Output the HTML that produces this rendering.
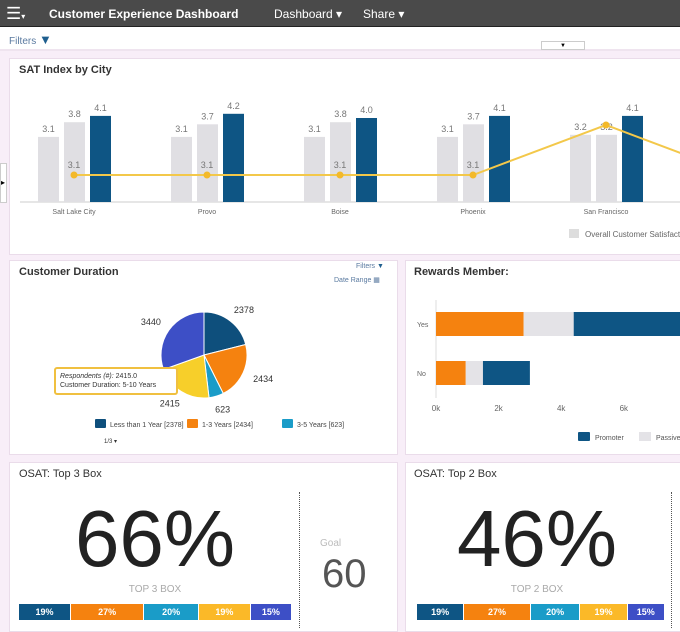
<!DOCTYPE html>
<html><head><meta charset="utf-8"><style>
*{margin:0;padding:0;box-sizing:border-box}
body{width:680px;height:628px;overflow:hidden;background:#f8eef8;font-family:"Liberation Sans",sans-serif;position:relative}
.abs{position:absolute}
.panel{position:absolute;background:#fff;border:1px solid #eadcea}
.title{position:absolute;font-size:11px;font-weight:bold;color:#333}
</style></head><body>
<div class="abs" style="left:0;top:0;width:680px;height:27px;background:#4a4a4a;border-bottom:1px solid #222">
 <div class="abs" style="left:6px;top:5px;color:#fff;font-size:17px;line-height:17px">☰<span style="font-size:8px">▾</span></div>
 <div class="abs" style="left:49px;top:7px;color:#fff;font-size:12px;font-weight:bold">Customer Experience Dashboard</div>
 <div class="abs" style="left:274px;top:7px;color:#fff;font-size:12px">Dashboard ▾</div>
 <div class="abs" style="left:363px;top:7px;color:#fff;font-size:12px">Share ▾</div>
</div>
<div class="abs" style="left:0;top:27px;width:680px;height:24px;background:#fff;border-bottom:2px solid #efe4ef"></div>
<div class="abs" style="left:9px;top:32px;color:#5a7aa0;font-size:10px">Filters <span style="color:#1f5f8f;font-size:13px">▼</span></div>
<div class="abs" style="left:541px;top:41px;width:44px;height:9px;border:1px solid #ccc;background:#fff;font-size:6px;text-align:center;line-height:8px">▼</div>

<div class="panel" style="left:9px;top:58px;width:680px;height:197px"></div>
<div class="title" style="left:19px;top:64px">SAT Index by City</div>
<div class="abs" style="left:0;top:163px;width:7px;height:40px;background:#fff;border:1px solid #ccc;font-size:8px;line-height:38px">▸</div>
<svg class="abs" id="bar" style="left:0;top:80px" width="680" height="175"></svg>

<div class="panel" style="left:9px;top:260px;width:389px;height:195px"></div>
<div class="title" style="left:19px;top:266px">Customer Duration</div>
<div class="abs" style="left:356px;top:263px;font-size:7px;color:#5a7aa0">Filters <span style="color:#1f5f8f">▼</span></div>
<div class="abs" style="left:334px;top:276px;font-size:7px;color:#5a7aa0">Date Range ▦</div>
<svg class="abs" id="pie" style="left:9px;top:280px" width="389" height="175"></svg>
<div class="abs" style="left:54px;top:367px;width:124px;height:28px;background:#fff;border:2px solid #f0c040;border-radius:3px;font-size:7px;color:#333;padding:3px 4px;line-height:9px"><i>Respondents (#):</i> 2415.0<br>Customer Duration: 5-10 Years</div>

<div class="panel" style="left:405px;top:260px;width:280px;height:195px"></div>
<div class="title" style="left:414px;top:266px">Rewards Member:</div>
<svg class="abs" id="hbar" style="left:405px;top:280px" width="275" height="175"></svg>

<div class="panel" style="left:9px;top:462px;width:389px;height:170px"></div>
<div class="title" style="left:19px;top:468px;font-weight:normal">OSAT: Top 3 Box</div>
<div class="abs" style="left:40px;top:496px;width:230px;text-align:center;font-size:80px;color:#222;line-height:86px">66%</div>
<div class="abs" style="left:40px;top:584px;width:230px;text-align:center;font-size:10px;color:#aaa">TOP 3 BOX</div>
<div class="abs" style="left:299px;top:492px;height:136px;border-left:1px dotted #555"></div>
<div class="abs" style="left:320px;top:538px;font-size:10px;color:#bbb">Goal</div>
<div class="abs" style="left:322px;top:552px;font-size:40px;color:#555">60</div>
<div class="abs" id="strip1" style="left:19px;top:604px;width:273px;height:16px;display:flex"></div>

<div class="panel" style="left:405px;top:462px;width:280px;height:170px"></div>
<div class="title" style="left:414px;top:468px;font-weight:normal">OSAT: Top 2 Box</div>
<div class="abs" style="left:422px;top:496px;width:230px;text-align:center;font-size:80px;color:#222;line-height:86px">46%</div>
<div class="abs" style="left:422px;top:584px;width:230px;text-align:center;font-size:10px;color:#aaa">TOP 2 BOX</div>
<div class="abs" style="left:671px;top:492px;height:136px;border-left:1px dotted #555"></div>
<div class="abs" id="strip2" style="left:417px;top:604px;width:248px;height:16px;display:flex"></div>

<script>
const cities=["Salt Lake City","Provo","Boise","Phoenix","San Francisco","Seattle"];
const series1=[3.1,3.1,3.1,3.1,3.2,3.1];
const series2=[3.8,3.7,3.8,3.7,3.2,3.7];
const series3=[4.1,4.2,4.0,4.1,4.1,4.1];
const lineVals=[3.1,3.1,3.1,3.1,3.2,3.1];
const pieLabels=["Less than 1 Year","1-3 Years","3-5 Years","5-10 Years","10+ Years"];
const pieVals=[2378,2434,623,2415,3440];
const pieColors=["#0e4f7c","#f5820f","#1a9cc8","#f7cf2a","#3d4fc6"];
const rewardCats=["Yes","No"];
const promoter=[4.6,1.5];
const passive=[1.6,0.55];
const detractor=[2.8,0.95];
const xTicks=["0k","2k","4k","6k"];
const stripVals1=[19,27,20,19,15];
const stripVals2=[19,27,20,19,15];
const NS="http://www.w3.org/2000/svg";
function mk(p,t,a){const e=document.createElementNS(NS,t);for(const k in a)e.setAttribute(k,a[k]);p.appendChild(e);return e;}
const bar=document.getElementById('bar');
const base=122, pxu=21;
const yB=v=>base-v*pxu;
const yL=v=>95-(v-3.1)*500;
const xC=i=>74+i*133;
const ax=mk(bar,'line',{x1:20,x2:680,y1:base,y2:base,stroke:'#ccc'});

cities.forEach((c,i)=>{
  const cx=xC(i);
  [[series1,'#e0dfe3',-36],[series2,'#e0dfe3',-10],[series3,'#0e5584',16]].forEach(([s,col,off],k)=>{
    const r=mk(bar,'rect',{x:cx+off,y:yB(s[i]),width:21,height:s[i]*pxu,fill:col});
    
    
    const t=mk(bar,'text',{x:cx+off+10.5,y:yB(s[i])-5,'text-anchor':'middle','font-size':9,fill:'#777'});t.textContent=s[i].toFixed(1);
  });
  const l=mk(bar,'text',{x:cx,y:base+12,'text-anchor':'middle','font-size':7,fill:'#666'});l.textContent=c;
  
});
let pts=lineVals.map((v,i)=>xC(i)+','+yL(v)).join(' ');
const pl=mk(bar,'polyline',{points:pts,fill:'none',stroke:'#f3c84a','stroke-width':2});

lineVals.forEach((v,i)=>{const c=mk(bar,'circle',{cx:xC(i),cy:yL(v),r:3.5,fill:'#f3b92a'});
 
 if(v<3.15){const t=mk(bar,'text',{x:xC(i),y:yL(v)-7,'text-anchor':'middle','font-size':9,fill:'#777'});t.textContent=v.toFixed(1);}});
mk(bar,'rect',{x:569,y:149,width:10,height:9,fill:'#ddd'});
const lg=mk(bar,'text',{x:585,y:157,'font-size':8,fill:'#666'});lg.textContent='Overall Customer Satisfaction';

const pie=document.getElementById('pie');
const pcx=195,pcy=75,pr=43;const tot=pieVals.reduce((a,b)=>a+b,0);
let ang=-Math.PI/2;
pieVals.forEach((v,i)=>{const a2=ang+v/tot*2*Math.PI;
 const x1=pcx+pr*Math.cos(ang),y1=pcy+pr*Math.sin(ang),x2=pcx+pr*Math.cos(a2),y2=pcy+pr*Math.sin(a2);
 const p=mk(pie,'path',{d:`M${pcx},${pcy}L${x1},${y1}A${pr},${pr} 0 ${a2-ang>Math.PI?1:0} 1 ${x2},${y2}Z`,fill:pieColors[i],stroke:'#fff','stroke-width':1});
 
 const m=(ang+a2)/2;const lx=pcx+(pr+22)*Math.cos(m),ly=pcy+(pr+14)*Math.sin(m);
 const t=mk(pie,'text',{x:lx,y:ly+3,'text-anchor':'middle','font-size':9,fill:'#333'});t.textContent=v;
 ang=a2;});
[[0,86],[1,178],[2,273]].forEach(([i,x])=>{mk(pie,'rect',{x:x,y:139,width:11,height:9,fill:pieColors[i],rx:1});
 const t=mk(pie,'text',{x:x+15,y:147,'font-size':7,fill:'#444'});t.textContent=pieLabels[i]+' ['+pieVals[i]+']';
 });
const pg=mk(pie,'text',{x:95,y:163,'font-size':6,fill:'#333'});pg.textContent='1/3 ▾';
const hb=document.getElementById('hbar');
const xK=k=>31+k*31.3;
mk(hb,'line',{x1:31,x2:31,y1:20,y2:118,stroke:'#ddd'});
rewardCats.forEach((c,i)=>{const y=32+i*49;let s=0;
 [[detractor,'#f5820f'],[passive,'#e4e3e7'],[promoter,'#0e5584']].forEach(([arr,col])=>{
  const r=mk(hb,'rect',{x:xK(s),y:y,width:arr[i]*31.3,height:24,fill:col});
  s+=arr[i];});
 const t=mk(hb,'text',{x:12,y:y+15,'font-size':7,fill:'#666'});t.textContent=c;});
xTicks.forEach((l,i)=>{const t=mk(hb,'text',{x:xK(i*2),y:131,'text-anchor':'middle','font-size':8,fill:'#666'});t.textContent=l;});
mk(hb,'rect',{x:173,y:152,width:12,height:9,fill:'#0e5584',rx:1});
let t1=mk(hb,'text',{x:190,y:160,'font-size':7,fill:'#555'});t1.textContent='Promoter';
mk(hb,'rect',{x:234,y:152,width:12,height:9,fill:'#e4e3e7'});
let t2=mk(hb,'text',{x:251,y:160,'font-size':7,fill:'#555'});t2.textContent='Passive';
const stripCols=["#0e5584","#f5820f","#1a9cc8","#fbb928","#3d4fc6"];
function strip(id,vals){const el=document.getElementById(id);vals.forEach((v,i)=>{const d=document.createElement('div');
 
 
 d.style.cssText=`flex:${v};background:${stripCols[i]};color:#fff;font-size:9px;font-weight:bold;text-align:center;line-height:16px;border-right:1px solid #fff`;
 d.textContent=v+'%';el.appendChild(d);});}
strip('strip1',stripVals1);strip('strip2',stripVals2);
</script>
</body></html>
